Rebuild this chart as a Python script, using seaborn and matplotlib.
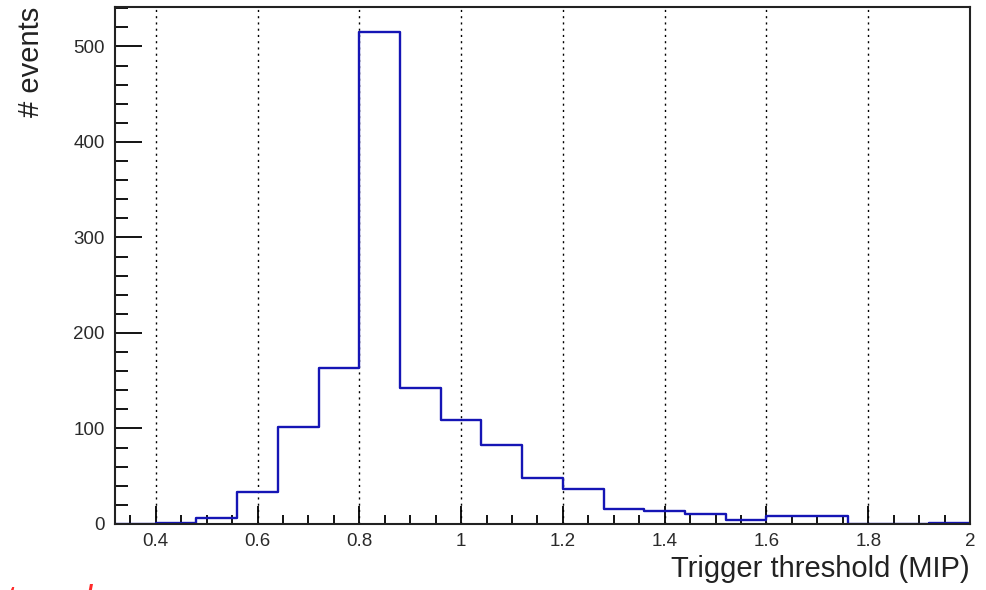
import numpy as np
import pandas as pd
import matplotlib
matplotlib.use("Agg")
import matplotlib.pyplot as plt
from matplotlib.ticker import MultipleLocator, FuncFormatter
import seaborn as sns

# ---- data ----
bin_edges = [0.32, 0.40, 0.48, 0.56, 0.64, 0.72, 0.80, 0.88, 0.96, 1.04, 1.12,
             1.20, 1.28, 1.36, 1.44, 1.52, 1.60, 1.68, 1.76, 1.84, 1.92, 2.00]
counts = [0, 1, 6, 33, 102, 163, 515, 142, 109, 83, 48,
          37, 16, 14, 10, 4, 8, 8, 0, 0, 1]
x_label = "Trigger threshold (MIP)"
y_label = "# events"
x_major_ticks = [0.4, 0.6, 0.8, 1.0, 1.2, 1.4, 1.6, 1.8, 2.0]
y_major_ticks = [0, 100, 200, 300, 400, 500]
note_text = "tuned"

edges = np.array(bin_edges)
centers = (edges[:-1] + edges[1:]) / 2
df = pd.DataFrame({"threshold": centers, "events": counts})

sns.set_style("white")
plt.rcParams["font.family"] = ["Liberation Sans", "DejaVu Sans"]

fig = plt.figure(figsize=(9.86, 5.90), dpi=100)
ax = fig.add_axes([115 / 986, 1 - 524 / 590, (970 - 115) / 986, (524 - 7.3) / 590])

sns.histplot(data=df, x="threshold", weights="events", bins=list(bin_edges),
             element="step", fill=False, color="#1515b5", linewidth=1.7, ax=ax)

ax.set_xlim(0.32, 2.0)
ax.set_ylim(0, 541)
ax.set_xlabel("")
ax.set_ylabel("")

# ticks
ax.set_xticks(x_major_ticks)
ax.set_yticks(y_major_ticks)
ax.xaxis.set_minor_locator(MultipleLocator(0.05))
ax.yaxis.set_minor_locator(MultipleLocator(20))
ax.xaxis.set_major_formatter(FuncFormatter(lambda v, p: f"{v:g}"))
ax.tick_params(axis="both", which="both", direction="in", colors="black",
               labelcolor="#2a2a2a", labelsize=13.5, width=1.3)
ax.tick_params(axis="x", which="major", length=13, pad=6.5)
ax.tick_params(axis="x", which="minor", length=6.5)
ax.tick_params(axis="y", which="major", length=19.5, pad=7.5)
ax.tick_params(axis="y", which="minor", length=9.5)
ax.tick_params(top=False, right=False, bottom=True, left=True, which="both")

for s in ax.spines.values():
    s.set_visible(True)
    s.set_color("#222222")
    s.set_linewidth(1.5)

# vertical dotted grid
ax.grid(axis="x", which="major", linestyle=(0, (1.5, 3)), color="black", linewidth=1.0)
ax.grid(axis="y", visible=False)
ax.set_axisbelow(True)

# axis titles (ROOT style)
fig.text(970 / 986, 1 - 577 / 590, x_label, ha="right", va="baseline",
         fontsize=21, color="#222222")
fig.text(31 / 986, 1 - 7 / 590, y_label, ha="center", va="top", rotation=90,
         fontsize=21, color="#222222")

# partially visible red note at bottom-left edge (cropped in the original)
fig.text(0.006, -0.0345, note_text, ha="left", va="baseline", fontsize=25,
         color="#ff2a2a", style="italic")

fig.savefig("out.png", dpi=100)
